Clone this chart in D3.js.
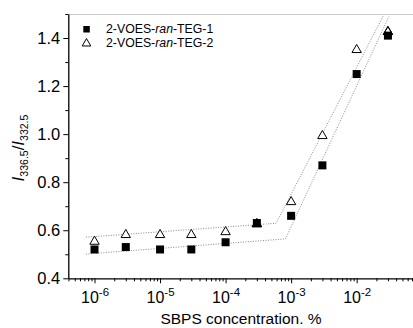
<!DOCTYPE html>
<html><head><meta charset="utf-8">
<script src="https://cdn.jsdelivr.net/npm/d3@7"></script>
<style>body{margin:0;background:#fff}svg{display:block;font-family:"Liberation Sans",Arial,sans-serif}</style>
</head><body>
<svg id="c" width="413" height="328"></svg>
<script>
const concentrations = [1e-6, 3e-6, 1e-5, 3e-5, 1e-4, 3e-4, 1e-3, 3e-3, 1e-2, 3e-2];
const series1 = [0.52, 0.53, 0.52, 0.52, 0.55, 0.63, 0.66, 0.87, 1.25, 1.41];
const series2 = [0.557, 0.585, 0.585, 0.585, 0.597, 0.63, 0.722, 0.997, 1.355, 1.43];
const seriesNames = ["2-VOES-", "ran", "-TEG-"];
const legendLabels = ["1", "2"];
const fit1X = [7.4e-7, 8.2e-4, 3.11e-2];
const fit1Y = [0.501, 0.564, 1.49];
const fit2X = [7.4e-7, 5.9e-4, 2.52e-2];
const fit2Y = [0.571, 0.629, 1.49];
const yTicks = [0.4, 0.6, 0.8, 1.0, 1.2, 1.4];
const yMinor = [0.5, 0.7, 0.9, 1.1, 1.3, 1.5];
const xTickExps = [-6, -5, -4, -3, -2];
const FONT = "Liberation Sans, Arial, sans-serif";

const svg = d3.select("#c");
const x = d3.scaleLog().domain([Math.pow(10, -6.4), 1e-1]).range([68.3, 422.2]);
const y = d3.scaleLinear().domain([0.4, 1.5]).range([278.3, 14]);

// top frame
svg.append("line").attr("x1", 68.3).attr("x2", 422).attr("y1", 14.5).attr("y2", 14.5)
  .attr("stroke", "#c8c8c8").attr("stroke-width", 1.2);

// minor x ticks
const xMinor = [];
for (let e = -7; e <= -2; e++) for (let m = 2; m <= 9; m++) {
  const v = m * Math.pow(10, e);
  if (v > x.domain()[0] && v < x.domain()[1]) xMinor.push(v);
}
const gxm = svg.append("g").attr("transform", "translate(0,278.3)")
  .call(d3.axisBottom(x).tickValues(xMinor).tickSize(3).tickSizeOuter(0).tickFormat(""));
gxm.select(".domain").remove();
const gx = svg.append("g").attr("transform", "translate(0,278.3)")
  .call(d3.axisBottom(x).tickValues(xTickExps.map(e => Math.pow(10, e))).tickSize(5).tickSizeOuter(0).tickFormat(""));
gx.selectAll("line").attr("stroke", "#000");
gxm.selectAll("line").attr("stroke", "#000");
gx.select(".domain").attr("stroke", "#000").attr("stroke-width", 1.3);
gx.selectAll(".tick").each(function(d, i) {
  const t = d3.select(this).append("text").attr("fill", "#000").attr("y", 25).attr("font-size", 16)
    .attr("font-family", FONT).attr("text-anchor", "middle");
  t.append("tspan").text("10");
  t.append("tspan").attr("font-size", 11.5).attr("dy", -7).text(String(xTickExps[i]));
});

// y axis
const gym = svg.append("g").attr("transform", "translate(68.3,0)")
  .call(d3.axisLeft(y).tickValues(yMinor).tickSize(3).tickSizeOuter(0).tickFormat(""));
gym.select(".domain").remove();
gym.selectAll("line").attr("stroke", "#000");
const gy = svg.append("g").attr("transform", "translate(68.3,0)")
  .call(d3.axisLeft(y).tickValues(yTicks).tickSize(5).tickSizeOuter(0).tickFormat(d3.format(".1f")));
gy.select(".domain").attr("stroke", "#000").attr("stroke-width", 1.3);
gy.selectAll("line").attr("stroke", "#000");
gy.selectAll("text").attr("font-size", 16.5).attr("fill", "#000").attr("font-family", FONT).attr("x", -8);

// axis titles
svg.append("text").attr("x", 241).attr("y", 324).attr("text-anchor", "middle").attr("font-size", 15.5)
  .attr("font-family", FONT).attr("fill", "#000").text("SBPS concentration. %");
const yt = svg.append("text").attr("transform", "translate(24,148) rotate(-90)").attr("text-anchor", "middle")
  .attr("font-size", 17).attr("font-family", FONT).attr("fill", "#000");
yt.append("tspan").attr("font-style", "italic").text("I");
yt.append("tspan").attr("font-size", 10.5).attr("dy", 4).text("336.5");
yt.append("tspan").attr("dy", -4).text("/");
yt.append("tspan").attr("font-style", "italic").text("I");
yt.append("tspan").attr("font-size", 10.5).attr("dy", 4).text("332.5");

// fit lines
const line = d3.line().x(d => x(d[0])).y(d => y(d[1]));
[[fit1X, fit1Y], [fit2X, fit2Y]].forEach(([fx, fy]) => {
  svg.append("path").attr("d", line(fx.map((v, i) => [v, fy[i]])))
    .attr("fill", "none").attr("stroke", "#8a8a8a").attr("stroke-width", 1).attr("stroke-dasharray", "1,1.5");
});

// markers
const tri = d3.symbol().type(d3.symbolTriangle).size(38);
svg.append("g").selectAll("path").data(concentrations).join("path")
  .attr("d", tri).attr("transform", (d, i) => `translate(${x(d)},${y(series2[i]) + 1})`)
  .attr("fill", "#fff").attr("stroke", "#000").attr("stroke-width", 1);
svg.append("g").selectAll("rect").data(concentrations).join("rect")
  .attr("x", d => x(d) - 4).attr("y", (d, i) => y(series1[i]) - 4).attr("width", 8).attr("height", 8).attr("fill", "#000");
// outline triangles again where they overlap squares
const overlapIdx = [5, 9];
svg.append("g").selectAll("path").data(overlapIdx).join("path")
  .attr("d", tri).attr("transform", i => `translate(${x(concentrations[i])},${y(series2[i]) + 1})`)
  .attr("fill", "none").attr("stroke", "#000").attr("stroke-width", 1);

// legend
const lg = svg.append("g");
lg.append("rect").attr("x", 83.3).attr("y", 26).attr("width", 6.5).attr("height", 6.5).attr("fill", "#000");
lg.append("path").attr("d", d3.symbol().type(d3.symbolTriangle).size(32)).attr("transform", "translate(86.5,43.5)")
  .attr("fill", "#fff").attr("stroke", "#000").attr("stroke-width", 1);
legendLabels.forEach((lab, i) => {
  const t = lg.append("text").attr("x", 106).attr("y", 33 + i * 14.3).attr("font-size", 12.3)
    .attr("font-family", FONT).attr("fill", "#000");
  t.append("tspan").text(seriesNames[0]);
  t.append("tspan").attr("font-style", "italic").text(seriesNames[1]);
  t.append("tspan").text(seriesNames[2] + lab);
});
</script>
</body></html>
